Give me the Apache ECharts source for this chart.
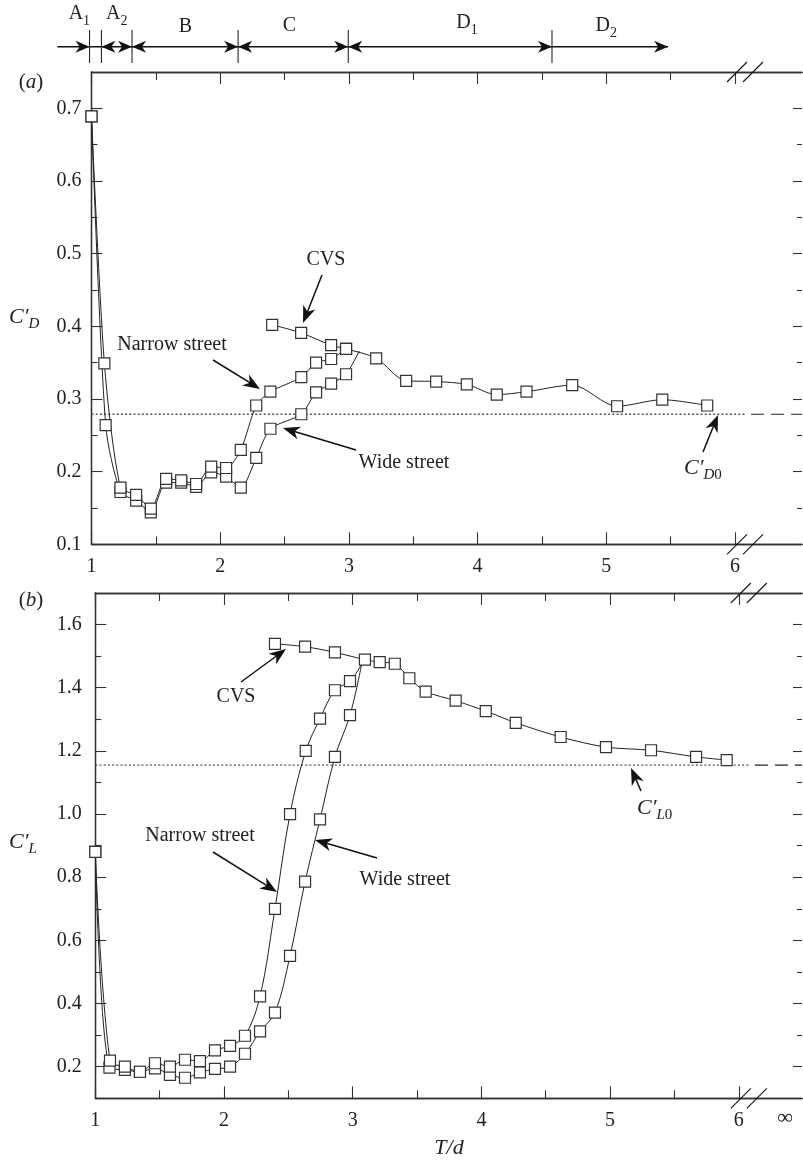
<!DOCTYPE html>
<html><head><meta charset="utf-8">
<script src="https://cdn.jsdelivr.net/npm/echarts@6/dist/echarts.min.js"></script>
<style>html,body{margin:0;padding:0;background:#fff}#c{width:803px;height:1164px}</style>
</head><body><div id="c"></div>
<script>
// ---------------- data: panel (a) C'_D ----------------
const tdNarrowA = [1.00, 1.10, 1.225, 1.347, 1.461, 1.58, 1.697, 1.813, 1.93, 2.046, 2.16, 2.28, 2.39, 2.63, 2.745, 2.862, 2.978];
const cdNarrow  = [0.689, 0.349, 0.178, 0.168, 0.149, 0.190, 0.188, 0.183, 0.207, 0.205, 0.230, 0.291, 0.310, 0.330, 0.350, 0.355, 0.369];
// last pair is the (unmarked) point where the wide-street curve joins the CVS curve
const tdWideA   = [1.00, 1.11, 1.225, 1.347, 1.461, 1.58, 1.697, 1.813, 1.93, 2.046, 2.16, 2.28, 2.39, 2.63, 2.745, 2.862, 2.978, 3.08];
const cdWide    = [0.689, 0.264, 0.172, 0.160, 0.144, 0.185, 0.185, 0.179, 0.199, 0.193, 0.178, 0.219, 0.259, 0.279, 0.309, 0.321, 0.334, 0.366];
const tdCvsA    = [2.404, 2.629, 2.862, 2.978, 3.212, 3.445, 3.678, 3.916, 4.149, 4.38, 4.735, 5.084, 5.435, 5.784];
const cdCvs     = [0.402, 0.391, 0.374, 0.369, 0.356, 0.325, 0.324, 0.320, 0.306, 0.310, 0.319, 0.290, 0.299, 0.291];
const CD0 = 0.279;

// ---------------- data: panel (b) C'_L ----------------
// last pair of narrow/wide is the (unmarked) junction with the CVS curve
const tdNarrowB = [1.00, 1.114, 1.23, 1.347, 1.464, 1.58, 1.697, 1.813, 1.93, 2.047, 2.163, 2.28, 2.396, 2.513, 2.635, 2.746, 2.862, 2.979, 3.07];
const clNarrow  = [0.88, 0.219, 0.200, 0.184, 0.211, 0.200, 0.222, 0.218, 0.252, 0.266, 0.298, 0.423, 0.700, 1.000, 1.200, 1.302, 1.392, 1.421, 1.475];
const tdWideB   = [1.00, 1.11, 1.23, 1.347, 1.464, 1.58, 1.697, 1.813, 1.93, 2.047, 2.163, 2.28, 2.396, 2.513, 2.63, 2.746, 2.862, 2.979, 3.07];
const clWide    = [0.88, 0.197, 0.190, 0.184, 0.195, 0.174, 0.165, 0.182, 0.193, 0.200, 0.241, 0.312, 0.371, 0.551, 0.786, 0.983, 1.181, 1.313, 1.475];
const tdCvsB    = [2.396, 2.63, 2.862, 3.095, 3.21, 3.327, 3.44, 3.567, 3.80, 4.034, 4.267, 4.616, 4.968, 5.318, 5.668, 5.906];
const clCvs     = [1.539, 1.530, 1.512, 1.489, 1.481, 1.476, 1.430, 1.388, 1.359, 1.326, 1.289, 1.244, 1.212, 1.202, 1.181, 1.171];
const CL0 = 1.155;

// ---------------- ticks / labels ----------------
const xMajor = [1, 2, 3, 4, 5, 6];
const xMinor = [1.5, 2.5, 3.5, 4.5, 5.5];
const yMajorA = [0.1, 0.2, 0.3, 0.4, 0.5, 0.6, 0.7];
const yMinorA = [0.15, 0.25, 0.35, 0.45, 0.55, 0.65];
const yMajorB = [0.2, 0.4, 0.6, 0.8, 1.0, 1.2, 1.4, 1.6];
const yMinorB = [0.3, 0.5, 0.7, 0.9, 1.1, 1.3, 1.5];
const yRangeA = [0.1, 0.75];
const yRangeB = [0.1, 1.7];
const regionNames = ['A', 'A', 'B', 'C', 'D', 'D'];
const regionSubs  = ['1', '2', '', '', '1', '2'];
const regionBounds = [0.985, 1.077, 1.315, 2.139, 2.995, 4.578];
const regionLabelAt = [0.906, 1.196, 1.73, 2.537, 3.918, 5.0];
const regionArrowFrom = 0.735, regionArrowTo = 5.48;
const refDotEnd = 6.09, refDashStart = 6.125;

// ---------------- layout ----------------
const FONT = '"Liberation Serif","Times New Roman",serif';
const INK = '#222';
const GRID = [
  {left: 91.5, top: 72, width: 710.5, height: 472.3},
  {left: 95.3, top: 593, width: 706.7, height: 505.3}
];
const PXU = 128.7;
const XMAX = GRID.map(g => 1 + g.width / PXU);
const YR = [yRangeA, yRangeB];
const YMAJ = [yMajorA, yMajorB], YMIN = [yMinorA, yMinorB];
const YMARGIN = [10, 13.5];
const REGION_LABEL_Y = [16, 16, 29, 28, 25, 28];

const chart = echarts.init(document.getElementById('c'), null, {renderer: 'canvas'});

function xAx(gi, position, ticks, len, withLabels) {
  return {
    type: 'value', gridIndex: gi, position, min: 1, max: XMAX[gi],
    axisLine: {show: true, onZero: false, lineStyle: {color: '#333', width: 1.3}},
    axisTick: {show: true, inside: true, length: len, customValues: ticks, lineStyle: {color: '#333', width: 1.1}},
    axisLabel: withLabels ? {show: true, customValues: xMajor, formatter: v => String(Math.round(v)),
      color: INK, fontFamily: FONT, fontSize: 20, margin: 12} : {show: false},
    splitLine: {show: false}, minorTick: {show: false}
  };
}
function yAx(gi, position, ticks, len, withLabels, lineShow) {
  return {
    type: 'value', gridIndex: gi, position, min: YR[gi][0], max: YR[gi][1],
    axisLine: {show: lineShow, onZero: false, lineStyle: {color: '#333', width: 1.3}},
    axisTick: {show: true, inside: true, length: len, customValues: ticks, lineStyle: {color: '#333', width: 1.1}},
    axisLabel: withLabels ? {show: true, customValues: YMAJ[gi], formatter: v => v.toFixed(1),
      color: INK, fontFamily: FONT, fontSize: 20, margin: YMARGIN[gi]} : {show: false},
    splitLine: {show: false}, minorTick: {show: false}
  };
}
const xAxes = [], yAxes = [];
for (let gi = 0; gi < 2; gi++) {
  xAxes.push(xAx(gi, 'bottom', xMajor, 12, true), xAx(gi, 'bottom', xMinor, 8, false),
             xAx(gi, 'top', xMajor, 12, false), xAx(gi, 'top', xMinor, 8, false));
  yAxes.push(yAx(gi, 'left', YMAJ[gi], 11, true, true), yAx(gi, 'left', YMIN[gi], 6, false, true),
             yAx(gi, 'right', YMAJ[gi], 9, false, false), yAx(gi, 'right', YMIN[gi], 5, false, false));
}

function curve(gi, xs, ys, smooth, openEnd) {
  const data = xs.map((x, i) => [x, ys[i]]);
  if (openEnd) data[data.length - 1] = {value: data[data.length - 1], symbol: 'none'};
  return {
    type: 'line', xAxisIndex: gi * 4, yAxisIndex: gi * 4, data, smooth,
    symbol: 'rect', symbolSize: 11, showAllSymbol: true, clip: false, silent: true,
    itemStyle: {color: '#fff', borderColor: '#333', borderWidth: 1.2},
    lineStyle: {color: INK, width: 1}, emphasis: {disabled: true}, z: 3
  };
}
function refLine(gi, v) {
  return [
    {type: 'line', xAxisIndex: gi * 4, yAxisIndex: gi * 4, data: [[1, v], [refDotEnd, v]], symbol: 'none', silent: true,
     lineStyle: {color: '#555', width: 1.4, type: [2, 2.2]}, z: 2},
    {type: 'line', xAxisIndex: gi * 4, yAxisIndex: gi * 4, data: [[refDashStart, v], [XMAX[gi], v]], symbol: 'none', silent: true,
     lineStyle: {color: INK, width: 1.2, type: [13, 7]}, z: 2}
  ];
}

chart.setOption({
  animation: false,
  backgroundColor: '#fff',
  grid: GRID.map(g => Object.assign({containLabel: false}, g)),
  xAxis: xAxes,
  yAxis: yAxes,
  series: [
    ...refLine(0, CD0),
    ...refLine(1, CL0),
    curve(0, tdWideA, cdWide, 0.25, true),
    curve(0, tdNarrowA, cdNarrow, 0.25, false),
    curve(0, tdCvsA, cdCvs, 0.3, false),
    curve(1, tdWideB, clWide, 0.35, true),
    curve(1, tdNarrowB, clNarrow, 0.35, true),
    curve(1, tdCvsB, clCvs, 0.3, false)
  ]
});

// ---------------- annotations ----------------
const G = [];
const px = (gi, v) => chart.convertToPixel({xAxisIndex: gi * 4}, v);
function txt(x, y, rich, text, align) {
  G.push({type: 'text', x, y, silent: true, z: 100,
    style: {text, rich, fill: INK, fontFamily: FONT, fontSize: 20, align: align || 'center', verticalAlign: 'middle'}});
}
function seg(x1, y1, x2, y2, w) {
  G.push({type: 'line', silent: true, z: 100, shape: {x1, y1, x2, y2}, style: {stroke: '#111', lineWidth: w || 1.4}});
}
function head(x1, y1, x2, y2, L, hw, notch) {
  const dx = x2 - x1, dy = y2 - y1, d = Math.hypot(dx, dy), ux = dx / d, uy = dy / d, nx = -uy, ny = ux;
  const bx = x2 - ux * L, by = y2 - uy * L;
  G.push({type: 'polygon', silent: true, z: 101, shape: {points: [[x2, y2], [bx + nx * hw, by + ny * hw],
    [x2 - ux * (L - notch), y2 - uy * (L - notch)], [bx - nx * hw, by - ny * hw]]}, style: {fill: '#111'}});
}
function arrow(x1, y1, x2, y2) {
  const L = 17, notch = 5, d = Math.hypot(x2 - x1, y2 - y1);
  const ex = x2 - (x2 - x1) / d * (L - notch - 1), ey = y2 - (y2 - y1) / d * (L - notch - 1);
  seg(x1, y1, ex, ey, 1.5);
  head(x1, y1, x2, y2, L, 6.5, notch);
}
const sansRich = {
  m: {fontFamily: FONT, fontSize: 20, lineHeight: 24, verticalAlign: 'top'},
  s: {fontFamily: FONT, fontSize: 14, lineHeight: 12, verticalAlign: 'bottom'}
};
const symRich = {
  c: {fontFamily: FONT, fontSize: 22, fontStyle: 'italic', lineHeight: 26, verticalAlign: 'top'},
  s: {fontFamily: FONT, fontSize: 15, fontStyle: 'italic', lineHeight: 12, verticalAlign: 'bottom'},
  r: {fontFamily: FONT, fontSize: 15, lineHeight: 12, verticalAlign: 'bottom'},
  i: {fontFamily: FONT, fontSize: 21, fontStyle: 'italic', lineHeight: 24},
  p: {fontFamily: FONT, fontSize: 21, lineHeight: 24}
};

// region bar on top
const AY = 46.7;
const xb = regionBounds.map(v => px(0, v));
seg(px(0, regionArrowFrom), AY, px(0, regionArrowTo), AY, 1.4);
xb.forEach(x => seg(x, 30, x, 63, 1));
const HL = 14, HW = 6, HN = 4;
head(xb[0] - 20, AY, xb[0], AY, HL, HW, HN);
head(xb[1] + 20, AY, xb[1], AY, HL, HW, HN);
for (let i = 1; i <= 4; i++) {
  if (i > 1) head(xb[i] + 20, AY, xb[i], AY, HL, HW, HN);
  head(xb[i + 1] - 20, AY, xb[i + 1], AY, HL, HW, HN);
}
const xe = px(0, regionArrowTo);
head(xe - 20, AY, xe, AY, HL, HW, HN);
regionNames.forEach((n, i) => {
  const t = regionSubs[i] ? '{m|' + n + '}{s|' + regionSubs[i] + '}' : '{m|' + n + '}';
  txt(px(0, regionLabelAt[i]), REGION_LABEL_Y[i], sansRich, t);
});

// panel labels
txt(31, 82, symRich, '{p|(}{i|a}{p|)}');
txt(31, 600, symRich, '{p|(}{i|b}{p|)}');
txt(9, 319, symRich, '{c|C\u2032}{s|D}', 'left');
txt(9, 844, symRich, '{c|C\u2032}{s|L}', 'left');
G.push({type: 'text', x: 449, y: 1148, silent: true, z: 100,
  style: {text: 'T/d', fill: INK, fontFamily: FONT, fontSize: 22, fontStyle: 'italic', align: 'center', verticalAlign: 'middle'}});
G.push({type: 'text', x: 785, y: 1118, silent: true, z: 100,
  style: {text: '\u221E', fill: INK, fontFamily: FONT, fontSize: 22, align: 'center', verticalAlign: 'middle'}});

// axis breaks
function brk(gi, y) {
  const x6 = px(gi, 6);
  [x6 + 2, x6 + 18].forEach(c => seg(c - 10, y + 10, c + 10, y - 10, 1.1));
}
brk(0, GRID[0].top); brk(0, GRID[0].top + GRID[0].height);
brk(1, GRID[1].top); brk(1, GRID[1].top + GRID[1].height);

// panel (a) annotations
txt(326, 260, null, 'CVS');
arrow(322, 275, 303, 323);
txt(172, 345, null, 'Narrow street');
arrow(213, 360, 260, 389);
txt(404, 463, null, 'Wide street');
arrow(356, 450, 283, 428);
txt(684, 470, symRich, '{c|C\u2032}{s|D}{r|0}', 'left');
arrow(703, 452, 718, 415);

// panel (b) annotations
txt(236, 697, null, 'CVS');
arrow(241, 682, 286, 649);
txt(200, 836, null, 'Narrow street');
arrow(213, 852, 277, 892);
txt(405, 880, null, 'Wide street');
arrow(377, 858, 315, 840);
txt(637, 810, symRich, '{c|C\u2032}{s|L}{r|0}', 'left');
arrow(641, 791, 631, 768);

chart.setOption({graphic: {elements: G}});
</script>
</body></html>
